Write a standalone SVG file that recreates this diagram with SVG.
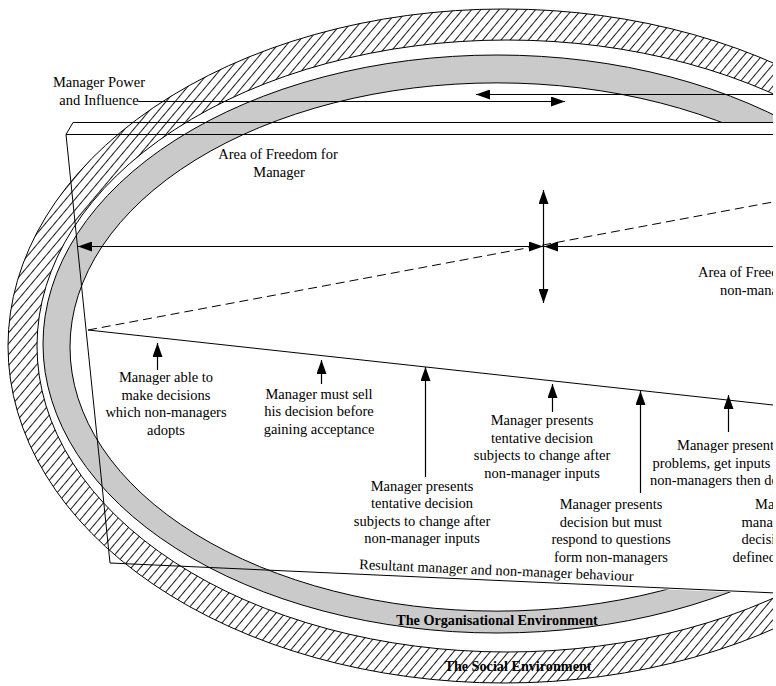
<svg xmlns="http://www.w3.org/2000/svg" width="776" height="686" viewBox="0 0 776 686">
<defs>
  <clipPath id="frame"><rect x="0" y="0" width="773" height="686"/></clipPath>
  <pattern id="hatch" patternUnits="userSpaceOnUse" width="7" height="10" patternTransform="rotate(40)">
    <rect width="7" height="10" fill="#fff"/>
    <line x1="3.5" y1="-1" x2="3.5" y2="11" stroke="#000" stroke-width="0.9"/>
  </pattern>
  <marker id="ah" viewBox="0 0 14 10" refX="14" refY="5" markerWidth="14" markerHeight="10" markerUnits="userSpaceOnUse" orient="auto-start-reverse">
    <path d="M0,0 L14,5 L0,10 z" fill="#000"/>
  </marker>
  <style>
    .ln{fill:none;stroke:#000;stroke-width:1}
    .ar{fill:none;stroke:#000;stroke-width:1.2;marker-end:url(#ah)}
    .ar2{fill:none;stroke:#000;stroke-width:1.2;marker-start:url(#ah);marker-end:url(#ah)}
    .t{font-family:"Liberation Serif","Times New Roman",serif;font-size:14.5px;fill:#000}
    .c{text-anchor:middle}
    .b{font-family:"Liberation Serif","Times New Roman",serif;font-size:14.2px;font-weight:bold;fill:#000;text-anchor:middle}
  </style>
</defs>
<rect width="776" height="686" fill="#fff"/>
<g clip-path="url(#frame)">
  <g id="social-environment">
    <path d="M8,346 a496,337 0 1,0 992,0 a496,337 0 1,0 -992,0 z M37,346 a470,306 0 1,0 940,0 a470,306 0 1,0 -940,0 z" fill="url(#hatch)" fill-rule="evenodd" stroke="#000" stroke-width="1"/>
    <text class="b" x="518" y="671">The Social Environment</text>
  </g>
  <g id="organisational-environment">
    <path d="M43,344 a454,289 0 1,0 908,0 a454,289 0 1,0 -908,0 z M70,347 a427,264 0 1,0 854,0 a427,264 0 1,0 -854,0 z" fill="#cacaca" fill-rule="evenodd" stroke="#000" stroke-width="1"/>
    <polygon points="560,123 773,123 773,594 560,585" fill="#fff"/>
  </g>
  <g id="board">
    <path class="ln" d="M773,122.5 H73 L66,134.5 H773 M66,134.5 L110,563 L776,593"/>
    <path class="ln" d="M88,330 L773,202" stroke-dasharray="9,5"/>
    <path class="ln" d="M88,330 L773,405"/>
  </g>
  <g id="connectors">
    <path class="ar" d="M138,101.5 H565"/>
    <path class="ar" d="M773,94.5 H476"/>
    <path class="ar2" d="M78,246.5 H543"/>
    <path class="ar" d="M773,246.5 H544"/>
    <path class="ar2" d="M543.5,190 V303"/>
    <path class="ar" d="M157.5,370 V343"/>
    <path class="ar" d="M321.5,384 V360"/>
    <path class="ar" d="M425.5,477 V367"/>
    <path class="ar" d="M552.5,412 V384"/>
    <path class="ar" d="M640.5,493 V391"/>
    <path class="ar" d="M728.5,432 V395"/>
  </g>
  <g id="label-power">
    <text class="t c" x="99" y="87">Manager Power</text>
    <text class="t c" x="99" y="105">and Influence</text>
  </g>
  <g id="label-freedom-manager">
    <text class="t c" x="278" y="159">Area of Freedom for</text>
    <text class="t c" x="279" y="177">Manager</text>
  </g>
  <g id="label-freedom-nonmanager">
    <text class="t" x="698" y="277">Area of Freed</text>
    <text class="t" x="720" y="295">non-mana</text>
  </g>
  <g id="label-1">
    <text class="t c" x="166" y="382">Manager able to</text>
    <text class="t c" x="166" y="399.5">make decisions</text>
    <text class="t c" x="166" y="417">which non-managers</text>
    <text class="t c" x="166" y="434.5">adopts</text>
  </g>
  <g id="label-2">
    <text class="t c" x="319" y="398.5">Manager must sell</text>
    <text class="t c" x="319" y="416">his decision before</text>
    <text class="t c" x="319" y="433.5">gaining acceptance</text>
  </g>
  <g id="label-3">
    <text class="t c" x="422" y="490.5">Manager presents</text>
    <text class="t c" x="422" y="508">tentative decision</text>
    <text class="t c" x="422" y="525.5">subjects to change after</text>
    <text class="t c" x="422" y="543">non-manager inputs</text>
  </g>
  <g id="label-4">
    <text class="t c" x="542" y="425">Manager presents</text>
    <text class="t c" x="542" y="442.5">tentative decision</text>
    <text class="t c" x="542" y="460">subjects to change after</text>
    <text class="t c" x="542" y="477.5">non-manager inputs</text>
  </g>
  <g id="label-5">
    <text class="t c" x="611" y="509">Manager presents</text>
    <text class="t c" x="611" y="526.5">decision but must</text>
    <text class="t c" x="611" y="544">respond to questions</text>
    <text class="t c" x="611" y="561.5">form non-managers</text>
  </g>
  <g id="label-6">
    <text class="t" x="677" y="450">Manager present</text>
    <text class="t" x="652.5" y="467.5">problems, get inputs</text>
    <text class="t" x="650" y="485">non-managers then de</text>
  </g>
  <g id="label-7">
    <text class="t" x="755" y="509">Ma</text>
    <text class="t" x="741.5" y="526.5">mana</text>
    <text class="t" x="741.5" y="544">decisi</text>
    <text class="t" x="732.5" y="561.5">defined</text>
  </g>
  <g id="label-behaviour">
    <text class="t" x="359" y="569" transform="rotate(2.5 359 569)">Resultant manager and non-manager behaviour</text>
  </g>
  <g id="label-organisational">
    <text class="b" x="497" y="625">The Organisational Environment</text>
  </g>
</g>
</svg>
